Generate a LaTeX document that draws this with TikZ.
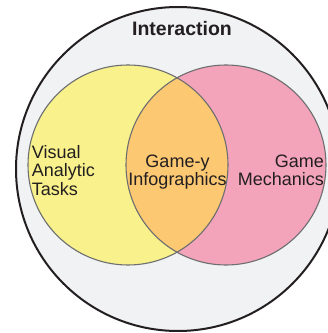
\documentclass[tikz,border=0pt]{standalone}
\usepackage{fontspec}
\setmainfont{Liberation Sans}
\definecolor{bggray}{HTML}{F1F2F4}
\definecolor{ink}{HTML}{231F20}
\definecolor{ringgray}{HTML}{6D6E70}
\definecolor{yellowset}{HTML}{F8F18C}
\definecolor{pinkset}{HTML}{F4A4BA}
\definecolor{overlapset}{HTML}{FCC872}
\begin{document}
\begin{tikzpicture}[x=1pt,y=1pt,
  venn/.style={draw=ringgray,line width=1.1pt},
  lbl/.style={inner sep=0pt,text=ink,font=\fontsize{18}{18.3}\selectfont}]
\useasboundingbox (0,0) rectangle (328,333);
\clip (0,0) rectangle (328,333);
\filldraw[fill=bggray,draw=ink,line width=2pt] (178,164) circle (162pt);
\fill[yellowset] (128,168) circle (100pt);
\fill[pinkset] (226,168) circle (100pt);
\begin{scope}
\clip (128,168) circle (100pt);
\fill[overlapset] (226,168) circle (100pt);
\end{scope}
\draw[venn] (128,168) circle (100pt);
\draw[venn] (226,168) circle (100pt);
\node[lbl,font=\bfseries\fontsize{19.5}{20}\selectfont] (interaction) at (182,304) {Interaction};
\node[lbl,anchor=west,align=left] (tasks) at (31.7,162.5) {Visual\\Analytic\\Tasks};
\node[lbl,align=center] (infog) at (177.5,161) {Game-y\\Infographics};
\node[lbl,anchor=east,align=right] (mech) at (324,163) {Game\\Mechanics};
\end{tikzpicture}
\end{document}
